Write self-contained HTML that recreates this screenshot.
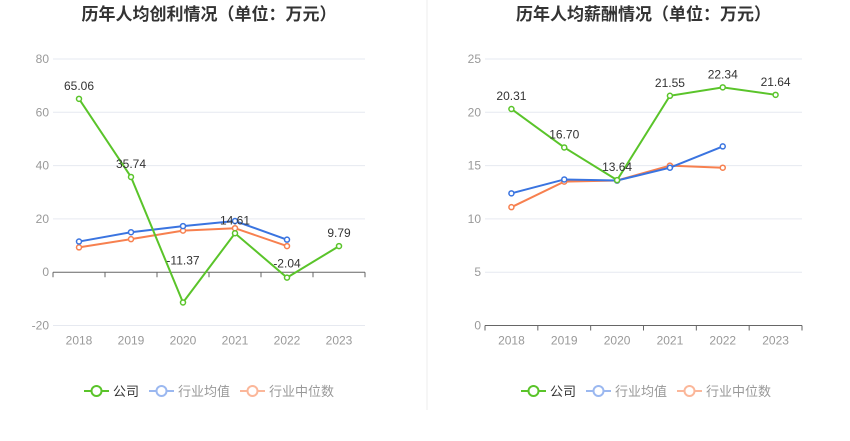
<!DOCTYPE html>
<html><head><meta charset="utf-8">
<style>
body{margin:0;background:#fff;font-family:"Liberation Sans","Noto Sans CJK SC",sans-serif;}
svg text{font-family:"Liberation Sans","Noto Sans CJK SC",sans-serif;}
</style></head>
<body>
<svg id="c" width="850" height="436">
<line x1="427" y1="0" x2="427" y2="410" stroke="#eeeeee"/>
</svg>
<script>
const years=["2018","2019","2020","2021","2022","2023"];
const profitCompany=[65.06,35.74,-11.37,14.61,-2.04,9.79];
const profitAvg=[11.5,15.0,17.3,19.2,12.2];
const profitMedian=[9.3,12.4,15.6,16.5,9.8];
const profitTicks=[-20,0,20,40,60,80];
const salaryCompany=[20.31,16.70,13.64,21.55,22.34,21.64];
const salaryAvg=[12.4,13.7,13.6,14.8,16.8];
const salaryMedian=[11.1,13.5,13.6,15.0,14.8];
const salaryTicks=[0,5,10,15,20,25];
const NS="http://www.w3.org/2000/svg";
const svg=document.getElementById('c');
function mk(t,a,p){const e=document.createElementNS(NS,t);for(const k in a)e.setAttribute(k,a[k]);(p||svg).appendChild(e);return e;}
function chart(o){
  const g=mk('g',{});
  
  
  const x0=o.x0,x1=o.x1,yT=59,yB=325.5;
  const mn=o.ticks[0],mx=o.ticks[o.ticks.length-1];
  const band=(x1-x0)/years.length;
  const X=i=>x0+band*(i+0.5);
  const Y=v=>yB-(v-mn)/(mx-mn)*(yB-yT);
  const t=mk('text',{x:(x0+x1)/2,y:20,'text-anchor':'middle','font-size':17,'font-weight':'bold',fill:'#333'},g);
  t.textContent=o.title;
  
  
  o.ticks.forEach(v=>{
    const l=mk('line',{x1:x0,x2:x1,y1:Y(v),y2:Y(v),stroke:v===o.axisAt?'#666':'#e6e9f0'},g);
    
    
    const tx=mk('text',{x:x0-4,y:Y(v)+4,'text-anchor':'end','font-size':12,fill:'#999'},g);
    tx.textContent=v;
    
    
  });
  const ay=Y(o.axisAt);
  years.forEach((y,i)=>{
    mk('line',{x1:x0+band*i,x2:x0+band*i,y1:ay,y2:ay+5,stroke:'#666'},g);
    const tx=mk('text',{x:X(i),y:yB+19,'text-anchor':'middle','font-size':12,fill:'#999'},g);
    tx.textContent=y;
    
    
  });
  mk('line',{x1:x1,x2:x1,y1:ay,y2:ay+5,stroke:'#666'},g);
  const series=[[o.median,'#f7804f','industry-median-line'],[o.avg,'#3a74e0','industry-average-line'],[o.comp,'#5ac42a','company-line']];
  series.forEach(([d,c,n])=>{
    const p=mk('polyline',{points:d.map((v,i)=>X(i)+','+Y(v)).join(' '),fill:'none',stroke:c,'stroke-width':2},g);
    
    
    d.forEach((v,i)=>{
      const m=mk('circle',{cx:X(i),cy:Y(v),r:2.5,fill:'#fff',stroke:c,'stroke-width':1.5},g);
      
      
    });
  });
  o.comp.forEach((v,i)=>{
    const lift=(o.lift&&o.lift[i])||9;
    const tx=mk('text',{x:X(i),y:Y(v)-lift,'text-anchor':'middle','font-size':12,fill:'#333'},g);
    tx.textContent=v.toFixed(2);
    
    
  });
  const lx=o.legendX,ly=391;
  const items=[['公司','#5ac42a','#333'],['行业均值','#9bb8f0','#999'],['行业中位数','#fbb79a','#999']];
  let cx=lx;
  items.forEach(([name,c,tc])=>{
    const lg=mk('g',{},g);
    
    
    mk('line',{x1:cx,x2:cx+25,y1:ly,y2:ly,stroke:c,'stroke-width':2},lg);
    mk('circle',{cx:cx+12.5,cy:ly,r:5,fill:'#fff',stroke:c,'stroke-width':2},lg);
    const tx=mk('text',{x:cx+29,y:ly+5,'font-size':13,fill:tc},lg);
    tx.textContent=name;
    cx+=29+name.length*13+10;
  });
}
chart({name:'profit-chart',title:'历年人均创利情况（单位：万元）',x0:53,x1:365,ticks:profitTicks,axisAt:0,comp:profitCompany,avg:profitAvg,median:profitMedian,legendX:84,lift:[9,9,38,9,10,9]});
chart({name:'salary-chart',title:'历年人均薪酬情况（单位：万元）',x0:485,x1:802,ticks:salaryTicks,axisAt:0,comp:salaryCompany,avg:salaryAvg,median:salaryMedian,legendX:521});
</script>
</body></html>
